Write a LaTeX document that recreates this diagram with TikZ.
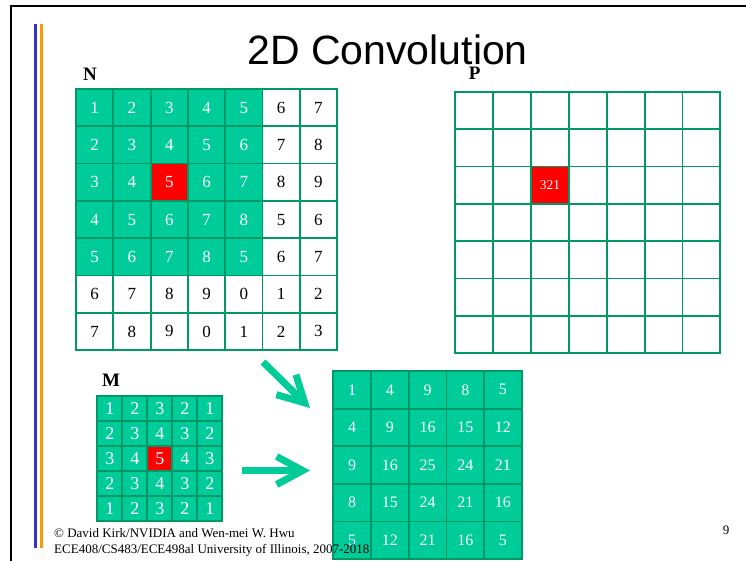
\documentclass[tikz,border=0pt]{standalone}
\usepackage{fontspec}
\setmainfont{Liberation Serif}
\newfontfamily\titlefont{Liberation Sans}
\usetikzlibrary{arrows.meta}
\definecolor{cellgreen}{RGB}{0,204,153}
\definecolor{linegreen}{RGB}{0,153,102}
\definecolor{barblue}{RGB}{51,51,204}
\definecolor{barorange}{RGB}{255,153,0}
\begin{document}
\begin{tikzpicture}[x=1pt,y=-1pt,
  cell/.style={draw=linegreen,line width=1.8pt,inner sep=0pt,font=\fontsize{17}{17}\selectfont},
  bigcell/.style={cell,minimum width=37.3pt,minimum height=37.3pt},
  label/.style={font=\fontsize{19}{19}\selectfont\bfseries},
  conv/.style={cellgreen,line width=7pt,-{Straight Barb[length=26pt,width=28pt]}}]
  \useasboundingbox (0,0) rectangle (746,561);
  % cornice
  \draw[line width=2.5pt] (746,6) -- (11,6) -- (11,561);
  \draw[barblue,line width=3pt] (35,24) -- (35,548);
  \draw[barorange,line width=3pt] (41,24) -- (41,548);
  \node[font=\titlefont\fontsize{41}{41}\selectfont,anchor=base] (title) at (387.7,65) {2D Convolution};

  % griglia N, verde in alto a sinistra e rosso al centro
  \foreach \row [count=\r] in {{1,2,3,4,5,6,7},{2,3,4,5,6,7,8},{3,4,5,6,7,8,9},
      {4,5,6,7,8,5,6},{5,6,7,8,5,6,7},{6,7,8,9,0,1,2},{7,8,9,0,1,2,3}} {
    \foreach \v [count=\c] in \row {
      \colorlet{cellfill}{white}\colorlet{celltext}{black}
      \ifnum\r<6 \ifnum\c<6 \colorlet{cellfill}{cellgreen}\colorlet{celltext}{white}\fi\fi
      \ifnum\r=3 \ifnum\c=3 \colorlet{cellfill}{red}\fi\fi
      \node[bigcell,fill=cellfill,text=celltext] (n-\r-\c) at (76+37.3*\c-18.65,89+37.3*\r-18.65) {\v};
    }
  }
  \node[label] (nlab) at (90,74.7) {N};

  % griglia P vuota
  \foreach \r in {1,...,7} {
    \foreach \c in {1,...,7} {
      \node[bigcell,minimum width=37.86pt,fill=white] (p-\r-\c) at (455.3+37.86*\c-18.93,92+37.3*\r-18.65) {};
    }
  }
  \node[bigcell,minimum width=37.86pt,fill=red,text=white,font=\fontsize{13.5}{13.5}\selectfont] (p-res) at (p-3-3) {321};
  \node[label] (plab) at (474.7,73.3) {P};

  % maschera M
  \foreach \row [count=\r] in {{1,2,3,2,1},{2,3,4,3,2},{3,4,5,4,3},{2,3,4,3,2},{1,2,3,2,1}} {
    \foreach \v [count=\c] in \row {
      \colorlet{cellfill}{cellgreen}
      \ifnum\r=3 \ifnum\c=3 \colorlet{cellfill}{red}\fi\fi
      \node[cell,minimum size=25pt,fill=cellfill,text=white,font=\fontsize{18}{18}\selectfont] (m-\r-\c) at (97.3+25*\c-12.5,396+25*\r-12.5) {\v};
    }
  }
  \node[label] (mlab) at (111.2,380.3) {M};

  % prodotti N*M
  \foreach \row [count=\r] in {{1,4,9,8,5},{4,9,16,15,12},{9,16,25,24,21},{8,15,24,21,16},{5,12,21,16,5}} {
    \foreach \v [count=\c] in \row {
      \node[cell,minimum width=37.7pt,minimum height=37.6pt,fill=cellgreen,text=white,font=\fontsize{16}{16}\selectfont] (s-\r-\c) at (333.3+37.7*\c-18.85,371+37.6*\r-18.8) {\v};
    }
  }

  % frecce
  \coordinate (d1) at (263,362);
  \coordinate (d2) at (310,408);
  \coordinate (h1) at (242,470.5);
  \coordinate (h2) at (310,470.5);
  \draw[conv] (d1) -- (d2);
  \draw[conv] (h1) -- (h2);

  \node[anchor=base west,inner sep=0pt,font=\fontsize{13}{13}\selectfont] (foot1) at (54,537) {\textcopyright{} David Kirk/NVIDIA and Wen-mei W. Hwu};
  \node[anchor=base west,inner sep=0pt,font=\fontsize{13}{13}\selectfont] (foot2) at (54,553) {ECE408/CS483/ECE498al University of Illinois, 2007-2018};
  \node[anchor=base,inner sep=0pt,font=\fontsize{13}{13}\selectfont] (page) at (726,534) {9};
\end{tikzpicture}
\end{document}
